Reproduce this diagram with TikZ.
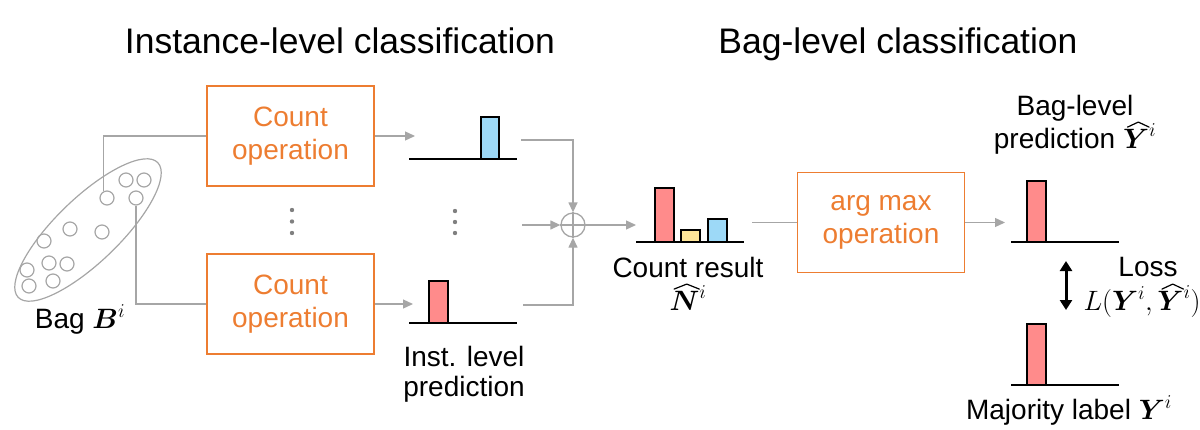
\RequirePackage{fix-cm}
\documentclass[tikz,border=0pt]{standalone}
\usepackage{amsmath,bm}
\usepackage{fontspec}
\setmainfont{Liberation Sans}
\usetikzlibrary{arrows.meta}
\definecolor{orng}{HTML}{ED7D31}
\definecolor{lgray}{HTML}{A6A6A6}
\definecolor{barred}{HTML}{FF8B8B}
\definecolor{barblue}{HTML}{9DD9F7}
\definecolor{baryel}{HTML}{FFE699}
\definecolor{dotgray}{HTML}{808080}
\newcommand{\bhat}[1]{\tikz[baseline=(hx.base)]{\node[inner sep=0pt,outer sep=0pt] (hx) {$#1$};
  \draw[overlay, line width=1.2pt, line cap=round, line join=round]
    ([xshift=0.16em,yshift=0.06em]hx.north west) -- ([xshift=0.08em,yshift=0.24em]hx.north) -- ([xshift=0em,yshift=0.06em]hx.north east);}}
\begin{document}
\begin{tikzpicture}[x=1pt,y=-1pt,
  opbox/.style={draw=orng, line width=1.6pt, text=orng, minimum width=167pt, minimum height=100pt, align=center, font=\fontsize{28}{33.5}\selectfont, inner sep=0pt},
  conn/.style={draw=lgray, line width=1.3pt},
  arr/.style={conn, -{Triangle[length=10pt,width=9pt]}},
  bar/.style={draw=black, line width=1.6pt},
  axisline/.style={draw=black, line width=1.6pt},
  lbl/.style={font=\fontsize{28}{32}\selectfont, inner sep=0pt, anchor=base},
  ttl/.style={font=\fontsize{35.5}{40}\selectfont, inner sep=0pt, anchor=base},
  inst/.style={circle, draw=lgray, line width=1.2pt, minimum size=14pt, inner sep=0pt},
  vdot/.style={fill=dotgray}]
\useasboundingbox (0,0) rectangle (1200,429);

% titles
\node[ttl] (t1) at (340,53) {Instance-level classification};
\node[ttl] (t2) at (898,53) {Bag-level classification};

% bag
\draw[lgray, line width=1.2pt, rotate around={44:(88,230)}] (88,230) ellipse [x radius=97, y radius=32];
\node[inst] (c1) at (126,180) {};
\node[inst] (c2) at (144,180) {};
\node[inst] (c3) at (107,198) {};
\node[inst] (c4) at (136,198) {};
\node[inst] (c5) at (70,229) {};
\node[inst] (c6) at (102,232) {};
\node[inst] (c7) at (44,241) {};
\node[inst] (c8) at (49,263) {};
\node[inst] (c9) at (67,264) {};
\node[inst] (c10) at (27,270) {};
\node[inst] (c11) at (53,281) {};
\node[inst] (c12) at (29,286) {};
\node[lbl] (bag) at (80,328) {Bag $\bm{B}^{i}$};

% count operations
\node[opbox] (op1) at (290.5,136) {Count\\operation};
\node[opbox] (op2) at (290.5,304) {Count\\operation};
\fill[vdot] (292,210) circle (2.2) (292,221.5) circle (2.2) (292,233) circle (2.2);

\draw[conn] (c3.120) |- (op1.west);
\draw[conn] (c4.south) |- (op2.west);

% instance-level histograms
\coordinate (h1in) at (415,136);
\coordinate (h2in) at (413,304);
\draw[arr] (op1.east) -- (h1in);
\draw[arr] (op2.east) -- (h2in);
\filldraw[bar, fill=barblue] (481,117) rectangle (499,159);
\draw[axisline] (409,159) -- (517,159);
\filldraw[bar, fill=barred] (429,281) rectangle (448,323);
\draw[axisline] (409,323) -- (517,323);
\fill[vdot] (455,211) circle (2.2) (455,222) circle (2.2) (455,233) circle (2.2);
\node[lbl] (inst1) at (464,366) {Inst. level};
\node[lbl] (inst2) at (464,396) {prediction};

% sum
\node[circle, draw=lgray, line width=1.3pt, minimum size=24pt, inner sep=0pt] (sum) at (573,225) {};
\draw[lgray, line width=1.3pt] (sum.north) -- (sum.south) (sum.west) -- (sum.east);
\coordinate (h1out) at (521,140);
\coordinate (h2out) at (523,305);
\coordinate (dmid) at (522,225);
\draw[arr] (h1out) -| (sum.north);
\draw[arr] (h2out) -| (sum.south);
\draw[arr] (dmid) -- (sum.west);

% count result
\coordinate (h3in) at (636,225);
\draw[arr] (sum.east) -- (h3in);
\filldraw[bar, fill=barred] (655,188) rectangle (674,242);
\filldraw[bar, fill=baryel] (681,230) rectangle (700,242);
\filldraw[bar, fill=barblue] (708,219) rectangle (727,242);
\draw[axisline] (636,242) -- (744,242);
\node[lbl] (cnt1) at (688,277) {Count result};
\node[lbl] (cnt2) at (688,310) {$\bhat{\bm{N}}^{i}$};

% arg max
\node[opbox] (op3) at (881,222.5) {arg max\\operation};
\coordinate (h3out) at (752,222.5);
\draw[conn] (h3out) -- (op3.west);
\coordinate (h4in) at (1005,222.5);
\draw[arr] (op3.east) -- (h4in);

% bag-level prediction
\filldraw[bar, fill=barred] (1027,181) rectangle (1046,242);
\draw[axisline] (1011,242) -- (1119,242);
\node[lbl] (pred1) at (1075,115) {Bag-level};
\node[lbl] (pred2) at (1075,148) {prediction $\bhat{\bm{Y}}^{i}$};

% loss
\coordinate (la) at (1066,261);
\coordinate (lb) at (1066,310);
\draw[line width=3pt, {Triangle[length=10pt,width=12pt]}-{Triangle[length=10pt,width=12pt]}] (la) -- (lb);
\node[lbl] (loss1) at (1148,276) {Loss};
\node[lbl] (loss2) at (1142,310) {$L(\bm{Y}^{i},\bhat{\bm{Y}}^{i})$};

% majority label
\filldraw[bar, fill=barred] (1027,324) rectangle (1046,385);
\draw[axisline] (1011,385) -- (1119,385);
\node[lbl] (majlbl) at (1069,419) {Majority label $\bm{Y}^{i}$};
\end{tikzpicture}
\end{document}
